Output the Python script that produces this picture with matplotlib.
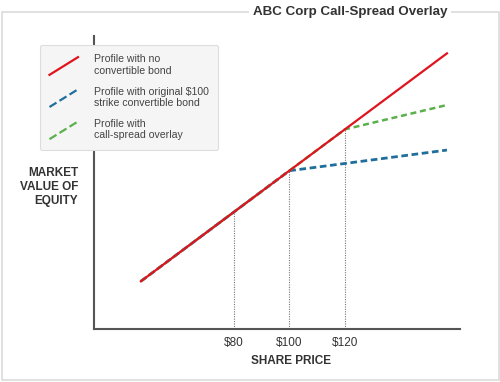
import matplotlib
matplotlib.use("Agg")
import matplotlib.pyplot as plt
from matplotlib.lines import Line2D
from matplotlib.patches import Rectangle
from matplotlib.legend_handler import HandlerBase

plt.rcParams['font.family'] = ['Liberation Sans', 'DejaVu Sans']

# share price points and market value of equity for each profile
price = [46.5, 80, 100, 120, 156.8]
no_convertible = [46.5, 80, 100, 120, 156.8]
original_convertible = [46.5, 80, 100, 103.5, 110.0]
call_spread_overlay = [46.5, 80, 100, 120, 131.8]
strikes = [80, 100, 120]
strike_labels = ['$80', '$100', '$120']
strike_values = [80, 100, 120]

labels = ['Profile with no\nconvertible bond',
          'Profile with original $100\nstrike convertible bond',
          'Profile with\ncall-spread overlay']
title = 'ABC Corp Call-Spread Overlay'

W, H = 500, 382
fig = plt.figure(figsize=(W / 100, H / 100), dpi=100)


def fx(px):
    return px / W


def fy(py):
    return 1 - py / H


# outer frame with title sitting on top edge
fig.patches.append(Rectangle((fx(2), fy(380)), fx(497), (380 - 12) / H,
                             transform=fig.transFigure, fill=False,
                             edgecolor='#dcdcdc', linewidth=1.2))
fig.text(fx(350), fy(12), title, ha='center', va='center', fontsize=9.6,
         fontweight='bold', color='#333333',
         bbox=dict(facecolor='white', edgecolor='none', pad=3))

ax = fig.add_axes([fx(94), fy(329), fx(460 - 94), (329 - 36) / H])
ax.set_xlim(29.6, 161.5)
ax.set_ylim(23.4, 165.2)

for s in ['top', 'right']:
    ax.spines[s].set_visible(False)
for s in ['left', 'bottom']:
    ax.spines[s].set_color('#555555')
    ax.spines[s].set_linewidth(1.5)

ax.vlines(strikes, 23.4, strike_values, colors='#777777', linestyles=(0, (1, 1.2)),
          linewidth=0.8, zorder=1)

blue, = ax.plot(price, original_convertible, color='#1f6e9c', linewidth=2.0,
                linestyle=(0, (2.4, 1.3)), zorder=2)
green, = ax.plot(price, call_spread_overlay, color='#5cb04c', linewidth=1.8,
                 linestyle=(0, (2.4, 1.5)), zorder=3)
red, = ax.plot(price, no_convertible, color='#e0141e', linewidth=1.6, zorder=4)

ax.set_xticks(strikes)
ax.set_xticklabels(strike_labels)
ax.set_yticks([])
ax.tick_params(axis='x', length=0, labelsize=8.5, labelcolor='#333333', pad=6)

fig.text(fx(291), fy(361), 'SHARE PRICE', ha='center', va='center',
         fontsize=8.5, fontweight='bold', color='#333333')
fig.text(fx(78), fy(187), 'MARKET\nVALUE OF\nEQUITY', ha='right', va='center',
         fontsize=8.5, fontweight='bold', color='#333333', linespacing=1.25)


class DiagonalHandler(HandlerBase):
    def create_artists(self, legend, orig_handle, xdescent, ydescent,
                       width, height, fontsize, trans):
        x0, y0 = -xdescent, -ydescent
        line = Line2D([x0, x0 + width], [y0, y0 + height],
                      color=orig_handle.get_color(),
                      linestyle=orig_handle.get_linestyle(),
                      linewidth=min(orig_handle.get_linewidth(), 1.6))
        line.set_transform(trans)
        return [line]


leg = ax.legend([red, blue, green], labels, loc='upper left',
                bbox_to_anchor=(fx(40), fy(45)), bbox_transform=fig.transFigure,
                handler_map={Line2D: DiagonalHandler()}, fontsize=7.6,
                handlelength=2.7, handleheight=2.2, handletextpad=1.5,
                labelspacing=1.0, borderpad=0.9, borderaxespad=0,
                fancybox=True, framealpha=1, facecolor='#f5f5f5',
                edgecolor='#dddddd', labelcolor='#444444')
leg.get_frame().set_linewidth(0.8)
leg.set_zorder(10)

fig.savefig('out.png', dpi=100)
